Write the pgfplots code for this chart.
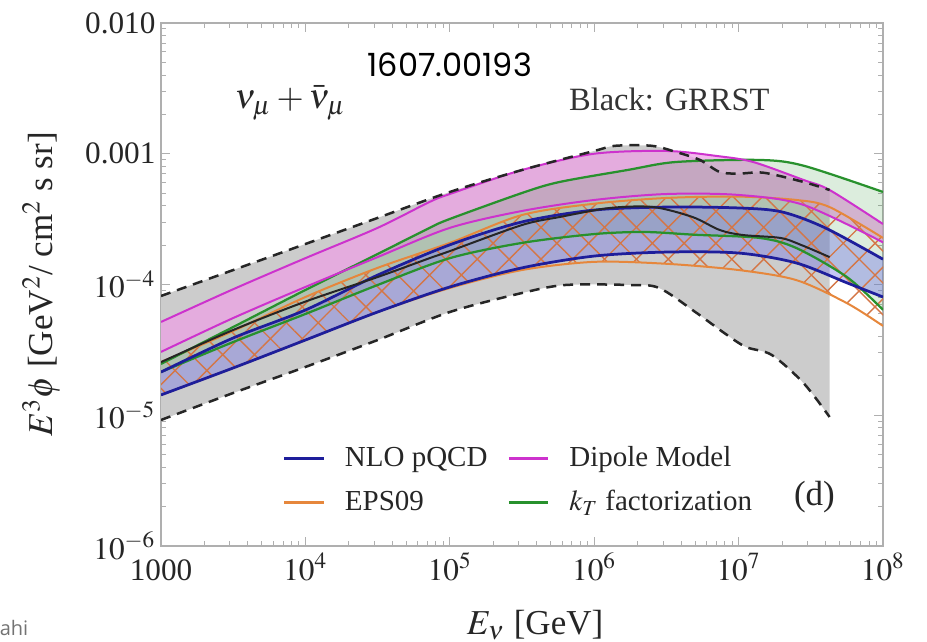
\documentclass[border=0pt]{standalone}
\usepackage{mathptmx}
\usepackage{fontspec}
\setmainfont{Liberation Serif}
\newfontfamily\idfont{Poppins}
\newfontfamily\wmfont{Open Sans}
\usepackage{pgfplots}
\usepackage{pgfplotstable}
\pgfplotsset{compat=1.18}
\usepgfplotslibrary{fillbetween}
\usetikzlibrary{patterns.meta}

\definecolor{cblue}{RGB}{30,30,155}
\definecolor{cmag}{RGB}{205,50,205}
\definecolor{cgreen}{RGB}{40,145,45}
\definecolor{corange}{RGB}{230,135,60}
\definecolor{chatch}{RGB}{212,118,70}
\definecolor{cpinkfill}{RGB}{238,160,230}
\definecolor{cbluefill}{RGB}{120,120,230}
\definecolor{cframe}{RGB}{175,175,175}

% GRRST upper / lower / central
\pgfplotstableread{
x y
1000 8.17e-5
3162 1.29e-4
10000 2.04e-4
31623 3.23e-4
100000 5.10e-4
316228 7.51e-4
1000000 1.05e-3
1400000 1.15e-3
2500000 1.15e-3
3700000 1.03e-3
5400000 8.96e-4
7400000 7.25e-4
10000000 7.05e-4
15000000 7.15e-4
28180000 6.08e-4
42660000 5.28e-4
}\grrstup
\pgfplotstableread{
x y
1000 9.20e-6
3162 1.48e-5
10000 2.34e-5
31623 3.76e-5
100000 6.16e-5
316228 8.61e-5
630957 9.91e-5
1778000 9.91e-5
2818000 9.40e-5
5012000 6.16e-5
7943000 4.26e-5
11220000 3.33e-5
16980000 2.89e-5
28180000 1.76e-5
42660000 9.70e-6
}\grrstlo
\pgfplotstableread{
x y
1000 2.55e-5
3162 4.49e-5
10000 7.40e-5
31623 1.14e-4
72444 1.59e-4
100000 1.80e-4
316228 2.85e-4
575000 3.28e-4
1290000 3.85e-4
2570000 3.91e-4
4800000 3.28e-4
7400000 2.61e-4
10700000 2.39e-4
19500000 2.27e-4
27000000 2.01e-4
42660000 1.62e-4
}\grrstc
% NLO pQCD
\pgfplotstableread{
x y
1000 2.14e-5
3162 3.90e-5
10000 6.38e-5
31623 1.18e-4
100000 2.01e-4
316228 3.01e-4
1000000 3.71e-4
3162000 3.91e-4
10000000 3.85e-4
19950000 3.59e-4
39810000 2.71e-4
100000000 1.56e-4
}\nloup
\pgfplotstableread{
x y
1000 1.43e-5
3162 2.30e-5
10000 3.76e-5
31623 6.16e-5
100000 9.57e-5
316228 1.34e-4
1000000 1.65e-4
3162000 1.77e-4
10000000 1.74e-4
25120000 1.46e-4
56230000 1.03e-4
100000000 8.02e-5
}\nlolo
% k_T factorization
\pgfplotstableread{
x y
1000 2.47e-5
3162 4.73e-5
10000 9.08e-5
31623 1.71e-4
72444 2.71e-4
100000 3.17e-4
316228 5.01e-4
575000 6.08e-4
1700000 7.51e-4
3700000 8.65e-4
14000000 8.96e-4
28180000 8.10e-4
100000000 5.10e-4
}\ktup
\pgfplotstableread{
x y
1000 2.14e-5
3162 3.63e-5
10000 5.95e-5
31623 9.91e-5
100000 1.59e-4
316228 2.08e-4
1000000 2.43e-4
2239000 2.52e-4
5012000 2.40e-4
14000000 2.27e-4
25120000 1.90e-4
56230000 1.14e-4
100000000 6.40e-5
}\ktlo
% Dipole model
\pgfplotstableread{
x y
1000 5.17e-5
3162 9.20e-5
10000 1.59e-4
31623 2.71e-4
72444 4.28e-4
100000 4.92e-4
316228 7.51e-4
1000000 1.00e-3
3162000 1.05e-3
7079000 9.61e-4
12590000 8.65e-4
28180000 6.30e-4
42660000 5.28e-4
100000000 2.90e-4
}\dipup
\pgfplotstableread{
x y
1000 3.05e-5
3162 5.54e-5
10000 9.57e-5
31623 1.62e-4
100000 2.71e-4
316228 3.65e-4
1000000 4.43e-4
3162000 4.92e-4
10000000 4.84e-4
28180000 4.06e-4
100000000 2.10e-4
}\diplo
% EPS09
\pgfplotstableread{
x y
1000 2.55e-5
3162 4.41e-5
10000 8.02e-5
31623 1.34e-4
100000 2.08e-4
316228 3.40e-4
1000000 4.15e-4
3162000 4.59e-4
10000000 4.70e-4
25120000 4.43e-4
42660000 3.91e-4
100000000 2.27e-4
}\epsup
\pgfplotstableread{
x y
1000 1.43e-5
3162 2.30e-5
10000 3.76e-5
31623 6.16e-5
100000 9.40e-5
316228 1.29e-4
1000000 1.49e-4
3162000 1.44e-4
10000000 1.29e-4
25120000 1.08e-4
56230000 7.20e-5
100000000 4.82e-5
}\epslo

\begin{document}
\begin{tikzpicture}
\begin{axis}[
  scale only axis, width=288.8pt, height=209.2pt,
  xmode=log, ymode=log,
  xmin=1000, xmax=1e8, ymin=1e-6, ymax=1e-2,
  axis line style={cframe, line width=0.5pt},
  tick style={cframe, line width=0.4pt},
  major tick length=3.5pt, minor tick length=2pt,
  xtick={1e3,1e4,1e5,1e6,1e7,1e8},
  xticklabels={1000,$10^4$,$10^5$,$10^6$,$10^7$,$10^8$},
  minor xtick={2e3,3e3,4e3,5e3,6e3,7e3,8e3,9e3,2e4,3e4,4e4,5e4,6e4,7e4,8e4,9e4,2e5,3e5,4e5,5e5,6e5,7e5,8e5,9e5,2e6,3e6,4e6,5e6,6e6,7e6,8e6,9e6,2e7,3e7,4e7,5e7,6e7,7e7,8e7,9e7},
  ytick={1e-6,1e-5,1e-4,1e-3,1e-2},
  yticklabels={$10^{-6}$,$10^{-5}$,$10^{-4}$,0.001,0.010},
  minor ytick={2e-6,3e-6,4e-6,5e-6,6e-6,7e-6,8e-6,9e-6,2e-5,3e-5,4e-5,5e-5,6e-5,7e-5,8e-5,9e-5,2e-4,3e-4,4e-4,5e-4,6e-4,7e-4,8e-4,9e-4,2e-3,3e-3,4e-3,5e-3,6e-3,7e-3,8e-3,9e-3},
  tick label style={font=\fontsize{12.5}{14}\selectfont, text=black!85},
  xticklabel style={anchor=base, yshift=-13.6pt},
  yticklabel style={inner xsep=2pt},
  xlabel={$E_\nu$ [GeV]},
  ylabel={$E^3\phi$ [GeV$^2$/ cm$^2$ s sr]},
  xlabel style={at={(axis description cs:0.518,-0.151)}, anchor=center, font=\fontsize{14}{16}\selectfont, text=black!85},
  ylabel style={at={(axis description cs:-0.166,0.5)}, anchor=center, font=\fontsize{14}{16}\selectfont, text=black!85},
  legend columns=2,
  legend cell align=left,
  legend style={at={(axis description cs:0.158,0.04)}, anchor=south west, draw=none, fill=none,
    font=\fontsize{11.6}{14}\selectfont, text=black!85, column sep=6pt, row sep=4pt},
  legend image code/.code={\draw[#1] (0cm,0cm) -- (0.55cm,0cm);},
]
% named boundary paths
\addplot[draw=none, name path=gu, smooth, forget plot] table {\grrstup};
\addplot[draw=none, name path=gl, smooth, forget plot] table {\grrstlo};
\addplot[draw=none, name path=du, smooth, forget plot] table {\dipup};
\addplot[draw=none, name path=dl, smooth, forget plot] table {\diplo};
\addplot[draw=none, name path=ku, smooth, forget plot] table {\ktup};
\addplot[draw=none, name path=kl, smooth, forget plot] table {\ktlo};
\addplot[draw=none, name path=nu, smooth, forget plot] table {\nloup};
\addplot[draw=none, name path=nl, smooth, forget plot] table {\nlolo};
\addplot[draw=none, name path=eu, smooth, forget plot] table {\epsup};
\addplot[draw=none, name path=el, smooth, forget plot] table {\epslo};
% fills
\addplot[black!20, forget plot] fill between[of=gu and gl];
\addplot[cpinkfill, fill opacity=0.72, forget plot] fill between[of=du and dl];
\addplot[cgreen, fill opacity=0.16, forget plot] fill between[of=ku and kl];
\addplot[cbluefill, fill opacity=0.42, forget plot] fill between[of=nu and nl];
\addplot[pattern={Hatch[angle=45,distance=9pt,line width=0.55pt]}, pattern color=chatch, forget plot] fill between[of=eu and el];
% lines
\addplot[corange, line width=0.8pt, smooth, forget plot] table {\epsup};
\addplot[corange, line width=0.8pt, smooth, forget plot] table {\epslo};
\addplot[cgreen, line width=0.9pt, smooth, forget plot] table {\ktup};
\addplot[cgreen, line width=0.9pt, smooth, forget plot] table {\ktlo};
\addplot[cmag, line width=0.8pt, smooth, forget plot] table {\dipup};
\addplot[cmag, line width=0.8pt, smooth, forget plot] table {\diplo};
\addplot[cblue, line width=1.1pt, smooth, forget plot] table {\nloup};
\addplot[cblue, line width=1.1pt, smooth, forget plot] table {\nlolo};
\addplot[black!85, line width=0.8pt, smooth, forget plot] table {\grrstc};
\addplot[black!85, line width=1pt, dash pattern=on 4pt off 2.8pt, smooth, forget plot] table {\grrstup};
\addplot[black!85, line width=1pt, dash pattern=on 4pt off 2.8pt, smooth, forget plot] table {\grrstlo};
% legend
\addlegendimage{cblue, line width=1.1pt}
\addlegendentry{NLO pQCD}
\addlegendimage{cmag, line width=1.1pt}
\addlegendentry{Dipole Model}
\addlegendimage{corange, line width=1.1pt}
\addlegendentry{EPS09}
\addlegendimage{cgreen, line width=1.1pt}
\addlegendentry{$k_T$ factorization}
% annotations
\node[font=\fontsize{14}{16}\selectfont, text=black!85] at (axis description cs:0.179,0.847) {$\nu_\mu + \bar{\nu}_\mu$};
\node[font=\fontsize{13}{15}\selectfont, text=black!80] at (axis description cs:0.704,0.853) {Black: GRRST};
\node[font=\idfont\fontsize{12.8}{14}\selectfont] at (axis description cs:0.400,0.920) {1607.00193};
\node[font=\fontsize{14}{16}\selectfont, text=black!85] at (axis description cs:0.905,0.094) {(d)};
\end{axis}
\node[anchor=west, text=black!55, font=\wmfont\fontsize{8}{9}\selectfont] at (-68pt,-32.8pt) {ahi};
\pgfresetboundingbox
\useasboundingbox (-64.4pt,-38pt) rectangle (306.4pt,218.4pt);
\end{tikzpicture}
\end{document}
